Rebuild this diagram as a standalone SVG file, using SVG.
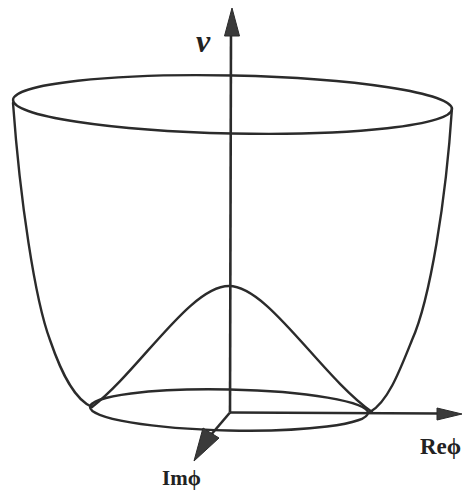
<svg xmlns="http://www.w3.org/2000/svg" width="463" height="496" viewBox="0 0 463 496">
<style>
.c{fill:none;stroke:#2b2b2b;stroke-width:2.4;stroke-linecap:round;stroke-linejoin:round}
.ax{fill:none;stroke:#2b2b2b;stroke-width:2.6}
.ah{fill:#3a3a3a;stroke:#2b2b2b;stroke-width:1}
.lb{font-family:"Liberation Serif","DejaVu Serif",serif;font-weight:bold;fill:#222}
</style>
<rect width="463" height="496" fill="#fff"/>
<g id="cup">
<ellipse class="c" cx="232.5" cy="104.5" rx="219.5" ry="29" transform="rotate(1.2 232.5 104.5)"/>
<path class="c" d="M13 103 C 20 200, 35 300, 50 340 C 62 375, 75 400, 92 407"/>
<path class="c" d="M452 108 C 446 200, 430 300, 412 340 C 400 370, 388 402, 370 412"/>
</g>
<g id="hump">
<path class="c" d="M92 407 C 140 370, 190 286, 229 286 C 268 286, 320 375, 372 412"/>
<ellipse class="c" cx="229" cy="410" rx="139" ry="20.5" transform="rotate(1.2 229 410)"/>
</g>
<g id="axes">
<line class="ax" x1="231" y1="30" x2="230" y2="412"/>
<polygon class="ah" points="232,8 224.5,36 239.5,36"/>
<line class="ax" x1="230" y1="412.5" x2="440" y2="413.5"/>
<polygon class="ah" points="462,414 437,408 437,420"/>
<line class="ax" x1="230" y1="412.5" x2="210" y2="436"/>
<polygon class="ah" points="194,461 203,428 219,438"/>
</g>
<g id="labels">
<text x="196" y="52" font-family="Liberation Serif,DejaVu Serif,serif" font-style="italic" font-weight="bold" font-size="32" fill="#222">ν</text>
<text class="lb" x="420" y="454" font-size="23">Reϕ</text>
<text class="lb" x="162" y="485" font-size="21">Imϕ</text>
</g>
</svg>
